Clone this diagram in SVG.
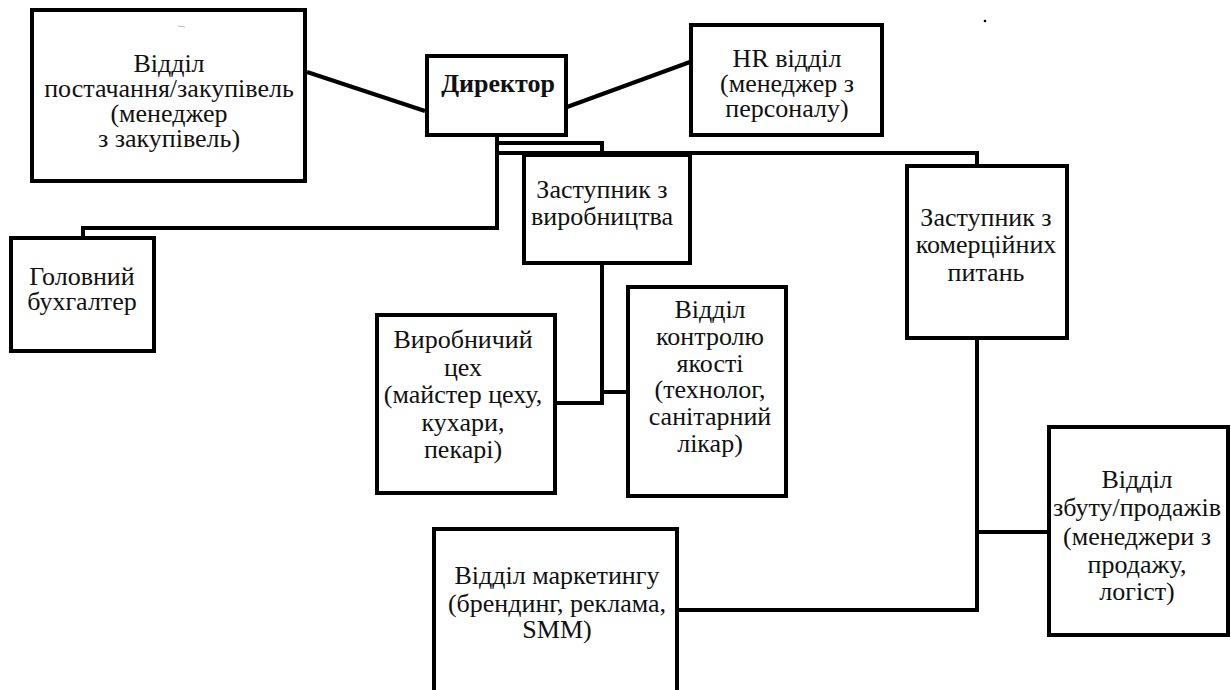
<svg xmlns="http://www.w3.org/2000/svg" width="1231" height="690" viewBox="0 0 1231 690">
<style>
.box{fill:#fff;stroke:#000;stroke-width:4}
.ln{fill:none;stroke:#000;stroke-width:4;stroke-linejoin:miter;stroke-linecap:square}
text{font-family:"Liberation Serif","Times New Roman",serif;font-size:26px;fill:#111;text-anchor:middle}
.b{font-weight:bold}
</style>
<rect width="1231" height="690" fill="#fff"/>
<g id="connectors">
<line class="ln" x1="307" y1="72" x2="425" y2="111" style="stroke-linecap:butt"/>
<line class="ln" x1="567" y1="107" x2="690" y2="62" style="stroke-linecap:butt"/>
<polyline class="ln" points="497,137 497,228 83,228 83,237"/>
<polyline class="ln" points="497,143 602,143 602,153"/>
<polyline class="ln" points="497,153 977,153 977,165"/>
<polyline class="ln" points="602,265 602,403 556,403"/>
<line class="ln" x1="602" y1="392" x2="627" y2="392"/>
<polyline class="ln" points="977,340 977,610 679,610"/>
<line class="ln" x1="977" y1="532" x2="1048" y2="532"/>
</g>
<g id="supply">
<rect class="box" x="32" y="10" width="273" height="171"/>
<line x1="178" y1="26" x2="185" y2="27" stroke="#bbb" stroke-width="1"/>
<text x="169" y="72">Відділ</text>
<text x="169" y="97">постачання/закупівель</text>
<text x="169" y="122">(менеджер</text>
<text x="169" y="147">з закупівель)</text>
</g>
<g id="director">
<rect class="box" x="427" y="56" width="139" height="79"/>
<text class="b" x="498" y="92">Директор</text>
</g>
<g id="hr">
<rect class="box" x="691" y="25" width="191" height="110"/>
<text x="787" y="67">HR відділ</text>
<text x="787" y="92">(менеджер з</text>
<text x="787" y="117">персоналу)</text>
</g>
<circle cx="985" cy="21" r="1.3" fill="#000"/>
<g id="deputy-production">
<rect class="box" x="524" y="155" width="166" height="108"/>
<text x="602" y="198">Заступник з</text>
<text x="602" y="225">виробництва</text>
</g>
<g id="accountant">
<rect class="box" x="11" y="238" width="143" height="113"/>
<text x="82" y="285">Головний</text>
<text x="82" y="310">бухгалтер</text>
</g>
<g id="deputy-commerce">
<rect class="box" x="907" y="166" width="160" height="172"/>
<text x="986" y="226">Заступник з</text>
<text x="986" y="253">комерційних</text>
<text x="986" y="281">питань</text>
</g>
<g id="workshop">
<rect class="box" x="377" y="315" width="178" height="178"/>
<text x="463" y="348">Виробничий</text>
<text x="463" y="376">цех</text>
<text x="463" y="403">(майстер цеху,</text>
<text x="463" y="431">кухари,</text>
<text x="463" y="458">пекарі)</text>
</g>
<g id="quality">
<rect class="box" x="628" y="287" width="158" height="209"/>
<text x="710" y="318">Відділ</text>
<text x="710" y="345">контролю</text>
<text x="710" y="372">якості</text>
<text x="710" y="398">(технолог,</text>
<text x="710" y="425">санітарний</text>
<text x="710" y="452">лікар)</text>
</g>
<g id="marketing">
<rect class="box" x="434" y="529" width="243" height="170"/>
<text x="557" y="584">Відділ маркетингу</text>
<text x="557" y="612">(брендинг, реклама,</text>
<text x="557" y="638">SMM)</text>
</g>
<g id="sales">
<rect class="box" x="1049" y="427" width="179" height="208"/>
<text x="1137" y="488">Відділ</text>
<text x="1137" y="516">збуту/продажів</text>
<text x="1137" y="545">(менеджери з</text>
<text x="1137" y="573">продажу,</text>
<text x="1137" y="600">логіст)</text>
</g>
</svg>
